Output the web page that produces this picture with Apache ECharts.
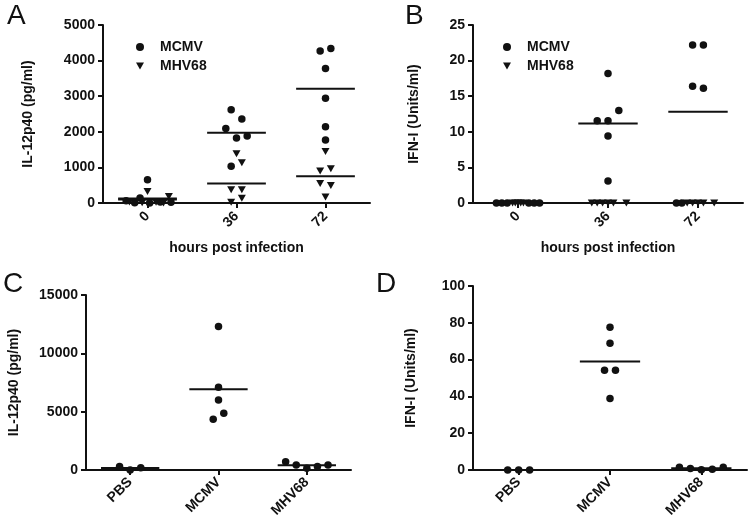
<!DOCTYPE html>
<html><head><meta charset="utf-8">
<script src="https://cdn.jsdelivr.net/npm/echarts@6/dist/echarts.min.js"></script>
<style>html,body{margin:0;padding:0;background:#fff}#c{width:750px;height:527px}</style>
</head><body><div id="c"></div>
<script>
// ---------- data ----------
const hourCats = ['0', '36', '72'];
const groupCats = ['PBS', 'MCMV', 'MHV68'];

// Panel A: IL-12p40 (pg/ml) by hours post infection
const aMCMV = [[655, 140, 60, 30, 20, 10, 0], [2620, 2360, 2090, 1825, 1880, 1030], [4270, 4340, 3780, 2940, 2140, 1770]];
const aMCMVJit = [[0, -0.7, -2, 1.2, 2.2, -1.2, 0.2], [-0.5, 0.5, -1, 0, 1, -0.5], [-0.5, 0.5, 0, 0, 0, 0]];
const aMHV = [[320, 185, 30, 10, 20, 0], [1385, 1130, 375, 375, 20, 130], [1450, 900, 960, 550, 495, 170]];
const aMHVJit = [[0, 2, -1.7, -0.5, 0.8, 1.5], [0, 0.5, -0.5, 0.5, -0.5, 0.5], [0, -0.5, 0.5, -0.5, 0.5, 0]];
const aMeanMCMV = [125, 1975, 3210];
const aMeanMHV = [95, 550, 750];

// Panel B: IFN-I (Units/ml) by hours post infection
const bMCMV = [[0, 0, 0, 0, 0, 0], [18.2, 13.0, 11.55, 11.55, 9.4, 3.1], [22.2, 22.2, 16.4, 16.1, 0, 0]];
const bMCMVJit = [[-2, -1.5, -1, 1, 1.5, 2], [0, 1, -1, 0, 0, 0], [-0.5, 0.5, -0.5, 0.5, -2, -1.5]];
const bMHV = [[0, 0, 0, 0, 0], [0, 0, 0, 0, 0, 0], [0, 0, 0, 0, 0]];
const bMHVJit = [[-0.5, 0, 0.5, -0.25, 0.25], [-1.5, -1, -0.5, 0, 0.5, 1.7], [-1, -0.5, 0, 0.5, 1.5]];
const bMeanMCMV = [0, 11.15, 12.8];
const bMeanMHV = [0, 0, 0];

// Panel C: IL-12p40 (pg/ml) by group
const cVals = [[290, 0, 200], [12290, 7090, 6000, 4860, 4350], [715, 430, 145, 290, 430]];
const cJit = [[-1, 0, 1], [0, 0, 0, 0.5, -0.5], [-2, -1, 0, 1, 2]];
const cMeans = [165, 6920, 400];

// Panel D: IFN-I (Units/ml) by group
const dVals = [[0, 0, 0], [77.6, 68.9, 54.2, 54.2, 38.8], [1.5, 0.8, 0.2, 0.4, 1.5]];
const dJit = [[-1, 0, 1], [0, 0, -0.5, 0.5, 0], [-2, -1, 0, 1, 2]];
const dMeans = [0, 58.9, 0.9];

// ---------- helpers ----------
const SLOT = 0.12, HALF = 0.33;
const INK = '#111';
const FONT = 'Liberation Sans, Arial, Helvetica, sans-serif';
const TRI = 'path://M0,0L10,0L5,9Z';

function pts(vals, jit) {
  const out = [];
  vals.forEach((arr, ci) => arr.forEach((v, j) => out.push([ci + jit[ci][j] * SLOT, v])));
  return out;
}
function meanLines(means, xi, yi) {
  return means.map((m, ci) => ({
    type: 'line', xAxisIndex: xi, yAxisIndex: yi, data: [[ci - HALF, m], [ci + HALF, m]],
    symbol: 'none', lineStyle: { color: INK, width: 2 }, silent: true, z: 1, animation: false
  }));
}
function scatter(name, data, xi, yi, sym, size) {
  return { type: 'scatter', name, data, xAxisIndex: xi, yAxisIndex: yi, symbol: sym, symbolSize: size,
    itemStyle: { color: INK, opacity: 1 }, z: 3, animation: false };
}
const lbl = { color: INK, fontWeight: 'bold', fontSize: 14, fontFamily: FONT };
function catAxis(g, cats, name, margin) {
  return {
    type: 'category', gridIndex: g, data: cats, boundaryGap: true, position: 'bottom',
    axisLine: { show: true, onZero: false, lineStyle: { color: INK, width: 2 } },
    axisTick: { show: true, alignWithLabel: true, length: 5, lineStyle: { color: INK, width: 2 } },
    axisLabel: Object.assign({ rotate: 45, margin: margin }, lbl),
    name: name, nameLocation: 'middle', nameGap: 38, nameTextStyle: lbl, splitLine: { show: false }
  };
}
function hidX(g) { return { type: 'value', gridIndex: g, min: -0.5, max: 2.5, show: false }; }
function valAxis(g, max, interval, name, gap) {
  return {
    type: 'value', gridIndex: g, min: 0, max: max, interval: interval, position: 'left',
    axisLine: { show: true, onZero: false, lineStyle: { color: INK, width: 2 } },
    axisTick: { show: true, length: 5, lineStyle: { color: INK, width: 2 } },
    axisLabel: Object.assign({ margin: 8, formatter: v => String(v) }, lbl),
    splitLine: { show: false },
    name: name, nameLocation: 'middle', nameGap: gap, nameRotate: 90, nameTextStyle: lbl
  };
}
function legend(left, top) {
  return {
    left: left, top: top, orient: 'vertical', itemGap: 5, itemWidth: 8, itemHeight: 8,
    selectedMode: false,
    data: [{ name: 'MCMV', icon: 'circle' }, { name: 'MHV68', icon: TRI }],
    textStyle: Object.assign({ padding: [0, 0, 0, 11] }, lbl)
  };
}
function letter(t, left, top) {
  return { text: t, left: left, top: top, padding: 0,
    textStyle: { fontSize: 28, fontWeight: 'normal', color: INK, fontFamily: FONT } };
}

const series = [].concat(
  meanLines(aMeanMCMV, 1, 0), meanLines(aMeanMHV, 1, 0),
  [scatter('MCMV', pts(aMCMV, aMCMVJit), 1, 0, 'circle', 7.5),
   scatter('MHV68', pts(aMHV, aMHVJit), 1, 0, TRI, [8, 7])],
  meanLines(bMeanMCMV, 3, 1), meanLines(bMeanMHV, 3, 1),
  [scatter('MCMV', pts(bMCMV, bMCMVJit), 3, 1, 'circle', 7.5),
   scatter('MHV68', pts(bMHV, bMHVJit), 3, 1, TRI, [8, 7])],
  meanLines(cMeans, 5, 2),
  [scatter('C', pts(cVals, cJit), 5, 2, 'circle', 7.5)],
  meanLines(dMeans, 7, 3),
  [scatter('D', pts(dVals, dJit), 7, 3, 'circle', 7.5)]
);

const chart = echarts.init(document.getElementById('c'), null, { renderer: 'canvas' });
chart.setOption({
  animation: false,
  backgroundColor: '#fff',
  textStyle: { fontFamily: FONT },
  title: [letter('A', 7, 2), letter('B', 405, 2), letter('C', 3, 270), letter('D', 376, 270)],
  legend: [legend(131, 35), legend(498, 35)],
  grid: [
    { left: 103, top: 25, width: 267, height: 178 },
    { left: 473, top: 25, width: 270, height: 178 },
    { left: 86, top: 295, width: 265, height: 175 },
    { left: 473, top: 286, width: 274, height: 184 }
  ],
  xAxis: [
    catAxis(0, hourCats, 'hours post infection', 11), hidX(0),
    catAxis(1, hourCats, 'hours post infection', 11), hidX(1),
    catAxis(2, groupCats, '', 10), hidX(2),
    catAxis(3, groupCats, '', 10), hidX(3)
  ],
  yAxis: [
    valAxis(0, 5000, 1000, 'IL-12p40 (pg/ml)', 68),
    valAxis(1, 25, 5, 'IFN-I (Units/ml)', 52),
    valAxis(2, 15000, 5000, 'IL-12p40 (pg/ml)', 65),
    valAxis(3, 100, 20, 'IFN-I (Units/ml)', 55)
  ],
  series: series
});
</script></body></html>
